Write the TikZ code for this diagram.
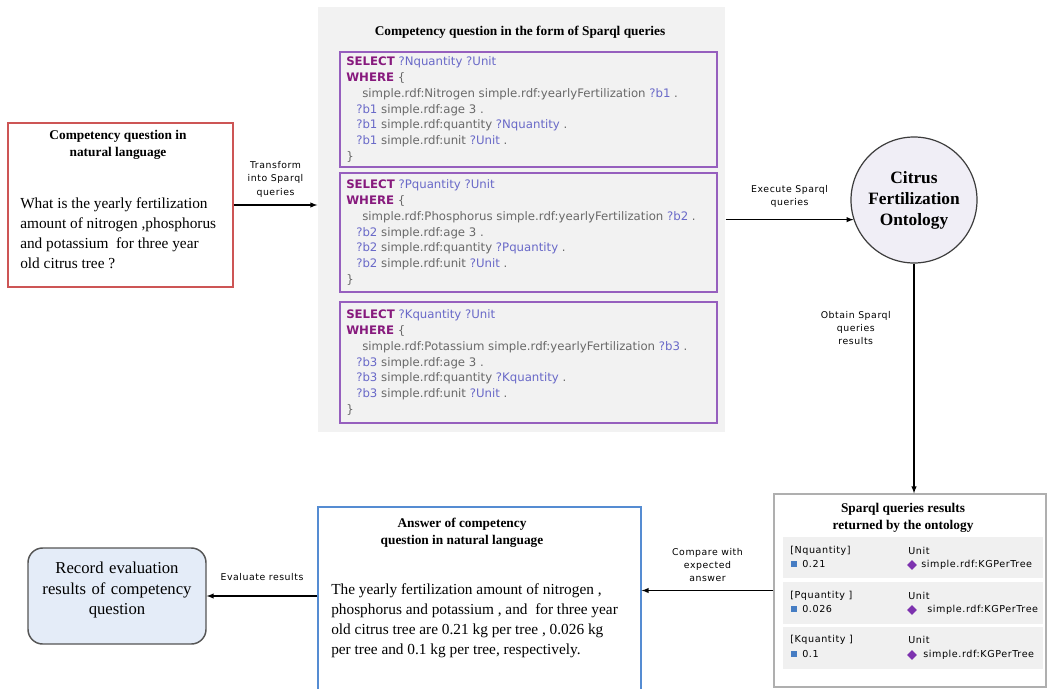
\documentclass[tikz,border=0pt]{standalone}
\usepackage{fontspec}
\setmainfont{Liberation Serif}
\newfontfamily\queryfont{DejaVu Sans}
\newfontfamily\tagfont[LetterSpace=6]{DejaVu Sans}
\usetikzlibrary{fit,shapes.geometric}

\definecolor{qred}{RGB}{205,85,85}
\definecolor{panelgray}{RGB}{242,242,242}
\definecolor{qpurple}{RGB}{150,95,190}
\definecolor{kwpurple}{RGB}{135,25,125}
\definecolor{varblue}{RGB}{105,105,200}
\definecolor{litgray}{RGB}{105,105,105}
\definecolor{ontofill}{RGB}{240,238,246}
\definecolor{ontoline}{RGB}{60,60,60}
\definecolor{resline}{RGB}{175,175,175}
\definecolor{rowgray}{RGB}{240,240,240}
\definecolor{valblue}{RGB}{70,125,195}
\definecolor{unitpurple}{RGB}{125,50,175}
\definecolor{ansblue}{RGB}{85,140,210}
\definecolor{recfill}{RGB}{228,236,248}
\definecolor{recline}{RGB}{85,85,85}

% one sparql query: #1 letter, #2 nutrient, #3 blank node
\newcommand{\sparqlquery}[3]{%
	\textcolor{kwpurple}{\textbf{SELECT}} \textcolor{varblue}{?#1quantity ?Unit}\\
	\textcolor{kwpurple}{\textbf{WHERE}} \{\\
	\hspace*{12pt}simple.rdf:#2 simple.rdf:yearlyFertilization \textcolor{varblue}{?#3} .\\
	\hspace*{7.5pt}\textcolor{varblue}{?#3} simple.rdf:age 3 .\\
	\hspace*{7.5pt}\textcolor{varblue}{?#3} simple.rdf:quantity \textcolor{varblue}{?#1quantity} .\\
	\hspace*{7.5pt}\textcolor{varblue}{?#3} simple.rdf:unit \textcolor{varblue}{?Unit} .\\
	\}}

\begin{document}
\begin{tikzpicture}[x=0.75pt, y=-0.75pt,
	box/.style={inner sep=0pt, line width=1pt},
	flow/.style={-latex, thick},
	tag/.style={font=\tagfont\fontsize{7}{10}\selectfont, align=center, inner sep=1pt},
	head/.style={font=\bfseries\fontsize{10}{13}\selectfont, align=center},
	prose/.style={font=\fontsize{11.5}{15}\selectfont, align=left, anchor=west, inner sep=0pt},
	query/.style={font=\queryfont\fontsize{8.8}{11.8}\selectfont, text=litgray, align=left, anchor=west, inner sep=0pt},
	cell/.style={font=\tagfont\fontsize{7.2}{9}\selectfont, anchor=west, inner sep=0pt}]

	\useasboundingbox (0,0) rectangle (1048,688);

	% question in natural language
	\node[box, draw=qred, fit={(8,123) (233,287)}] (question) {};
	\node[head] (questionhead) at (118,145) {Competency question in\\natural language};
	\node[prose] (questiontext) at (20,233) {What is the yearly fertilization\\amount of nitrogen ,phosphorus\\and potassium\ \ for three year\\old citrus tree ?};

	% sparql queries
	\node[box, fill=panelgray, fit={(318,7) (725,432)}] (panel) {};
	\node[head] (panelhead) at (520,32) {Competency question in the form of Sparql queries};
	\node[box, draw=qpurple, fit={(340,52) (717,167)}] (queryN) {};
	\node[box, draw=qpurple, fit={(340,173) (717,292)}] (queryP) {};
	\node[box, draw=qpurple, fit={(340,302) (717,423)}] (queryK) {};
	\node[query] (queryNtext) at ([xshift=5pt]queryN.west) {\sparqlquery{N}{Nitrogen}{b1}};
	\node[query] (queryPtext) at ([xshift=5pt]queryP.west) {\sparqlquery{P}{Phosphorus}{b2}};
	\node[query] (queryKtext) at ([xshift=5pt]queryK.west) {\sparqlquery{K}{Potassium}{b3}};

	\draw[flow] (question.east) -- (question.east -| panel.west) node[midway, above=4.5pt, tag] (transformtag) {Transform\\into Sparql\\queries};

	% ontology
	\node[circle, draw=ontoline, fill=ontofill, line width=0.9pt, minimum size=94.5pt, inner sep=0pt, font=\bfseries\fontsize{13}{15.75}\selectfont, align=center] (ontology) at (914,200) {Citrus\\Fertilization\\Ontology};
	\draw[flow] (panel.east |- ontology.198) -- (ontology.198) node[midway, above=7.5pt, tag] (executetag) {Execute Sparql\\queries};

	% results returned by the ontology
	\node[box, draw=resline, fill=white, fit={(774,494) (1046,687)}] (results) {};
	\draw[flow] (ontology.south) -- (ontology.south |- results.north) node[pos=0.28, left=16pt, tag] (obtaintag) {Obtain Sparql\\queries\\results};
	\node[head] (resultshead) at (903,518) {Sparql queries results\\returned by the ontology};
	\node[box, fill=rowgray, fit={(783,537) (1043,578)}] (rowN) {};
	\node[box, fill=rowgray, fit={(783,582) (1043,624)}] (rowP) {};
	\node[box, fill=rowgray, fit={(783,627) (1043,669)}] (rowK) {};

	\node[cell] (varN) at (790,551) {[Nquantity]};
	\node[fill=valblue, minimum size=4.5pt, inner sep=0pt] (markN) at (794,564) {};
	\node[cell] (valN) at (802,564) {0.21};
	\node[cell] (unitN) at (908,551) {Unit};
	\node[diamond, fill=unitpurple, minimum size=7.5pt, inner sep=0pt] (tipN) at (912,565) {};
	\node[cell] (kgN) at (921,565) {simple.rdf:KGPerTree};

	\node[cell] (varP) at (790,596) {[Pquantity ]};
	\node[fill=valblue, minimum size=4.5pt, inner sep=0pt] (markP) at (794,609) {};
	\node[cell] (valP) at (802,609) {0.026};
	\node[cell] (unitP) at (908,596) {Unit};
	\node[diamond, fill=unitpurple, minimum size=7.5pt, inner sep=0pt] (tipP) at (912,610) {};
	\node[cell] (kgP) at (927,610) {simple.rdf:KGPerTree};

	\node[cell] (varK) at (790,640) {[Kquantity ]};
	\node[fill=valblue, minimum size=4.5pt, inner sep=0pt] (markK) at (794,654) {};
	\node[cell] (valK) at (802,654) {0.1};
	\node[cell] (unitK) at (908,640) {Unit};
	\node[diamond, fill=unitpurple, minimum size=7.5pt, inner sep=0pt] (tipK) at (912,655) {};
	\node[cell] (kgK) at (923,655) {simple.rdf:KGPerTree};

	% answer in natural language
	\node[box, draw=ansblue, fit={(318,507) (641,700)}] (answer) {};
	\draw[flow] (results.west) -- (results.west -| answer.east) node[midway, above=5pt, tag] (comparetag) {Compare with\\expected\\answer};
	\node[head] (answerhead) at (462,533) {Answer of competency\\question in natural language};
	\node[prose] (answertext) at (331,621) {The yearly fertilization amount of nitrogen ,\\phosphorus and potassium , and\ \ for three year\\old citrus tree are 0.21 kg per tree , 0.026 kg\\per tree and 0.1 kg per tree, respectively.};

	% record evaluation
	\node[box, draw=recline, fill=recfill, line width=1.1pt, rounded corners=11pt, fit={(28,548) (206,644)}, font=\fontsize{12.5}{15.5}\selectfont, align=center] (record) {Record evaluation\\results of competency\\question};
	\draw[flow] (answer.west |- record.east) -- (record.east) node[midway, above=10pt, tag] (evaluatetag) {Evaluate results};
\end{tikzpicture}
\end{document}
